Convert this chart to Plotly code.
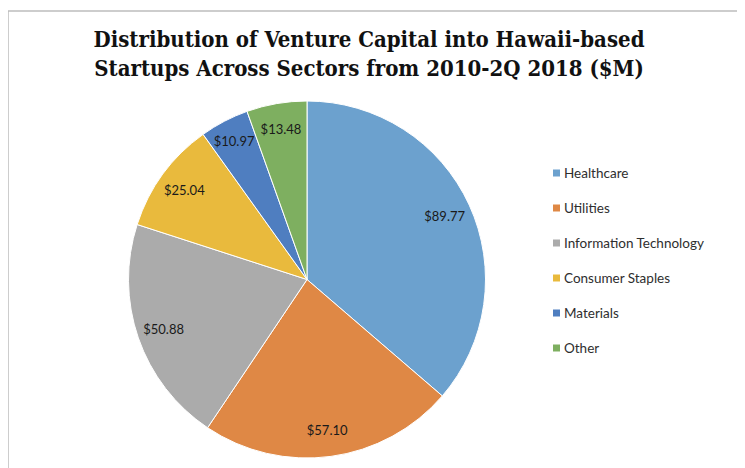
import plotly.graph_objects as go

# data
sectors = ["Healthcare", "Utilities", "Information Technology",
           "Consumer Staples", "Materials", "Other"]
amounts = [89.77, 57.10, 50.88, 25.04, 10.97, 13.48]
colors = ["#6ca1ce", "#df8845", "#ababab", "#e9ba3d", "#4f7ec0", "#7eaf60"]

# page body keeps its default 8px margin, so the figure is 8px smaller
# and every position below is measured from the figure's own corner
W, H = 737, 460
OFF = 8


def px(x):
    return (x - OFF) / W


def py(y):
    return 1 - (y - OFF) / H


pie_dom = dict(x=[px(128), px(486)], y=[py(458), py(101)])

fig = go.Figure()

# the coloured pie
fig.add_trace(
    go.Pie(
        labels=sectors,
        values=amounts,
        sort=False,
        direction="clockwise",
        rotation=0,
        marker=dict(colors=colors, line=dict(color="white", width=1)),
        textinfo="none",
        domain=pie_dom,
        showlegend=False,
    )
)

# same data as a see-through ring, only to carry the value labels
# out toward the rim like the source does
fig.add_trace(
    go.Pie(
        labels=sectors,
        values=amounts,
        sort=False,
        direction="clockwise",
        rotation=0,
        hole=0.7,
        marker=dict(colors=["rgba(0,0,0,0)"] * len(sectors), line=dict(width=0)),
        texttemplate="$%{value:.2f}",
        textposition="inside",
        insidetextorientation="horizontal",
        textfont=dict(family="Lato", size=13, color="#1a1a1a"),
        domain=pie_dom,
        showlegend=False,
        hoverinfo="skip",
    )
)

# legend drawn as annotations so the row spacing matches the original
for i, (name, c) in enumerate(zip(sectors, colors)):
    yc = 173 + i * 35
    fig.add_shape(
        type="rect", xref="paper", yref="paper",
        x0=px(553), x1=px(560), y0=py(yc + 3.5), y1=py(yc - 3.5),
        fillcolor=c, line=dict(width=0),
    )
    fig.add_annotation(
        xref="paper", yref="paper", x=px(562), y=py(yc),
        text=name, showarrow=False, xanchor="left", yanchor="middle",
        font=dict(family="Lato", size=13.5, color="#2e2e2e"),
    )

# chart frame (runs off the right and bottom edges like the source)
fig.add_shape(
    type="rect", xref="paper", yref="paper",
    x0=px(8), x1=1.05, y0=-0.05, y1=py(11),
    line=dict(color="#bdbdbd", width=1.5), fillcolor="rgba(0,0,0,0)",
    layer="below",
)

fig.update_layout(
    width=W,
    height=H,
    margin=dict(l=0, r=0, t=0, b=0),
    paper_bgcolor="white",
    plot_bgcolor="white",
    uniformtext=dict(minsize=13, mode="show"),
    title=dict(
        text="Distribution of Venture Capital into Hawaii-based<br>"
             "Startups Across Sectors from 2010-2Q 2018 ($M)",
        x=px(369), xanchor="center",
        y=1 - 39 / H, yanchor="top",
        font=dict(family="DejaVu Serif Condensed, Liberation Serif", size=22,
                  color="#111111", weight="bold"),
    ),
)

fig.write_html("out.html")
